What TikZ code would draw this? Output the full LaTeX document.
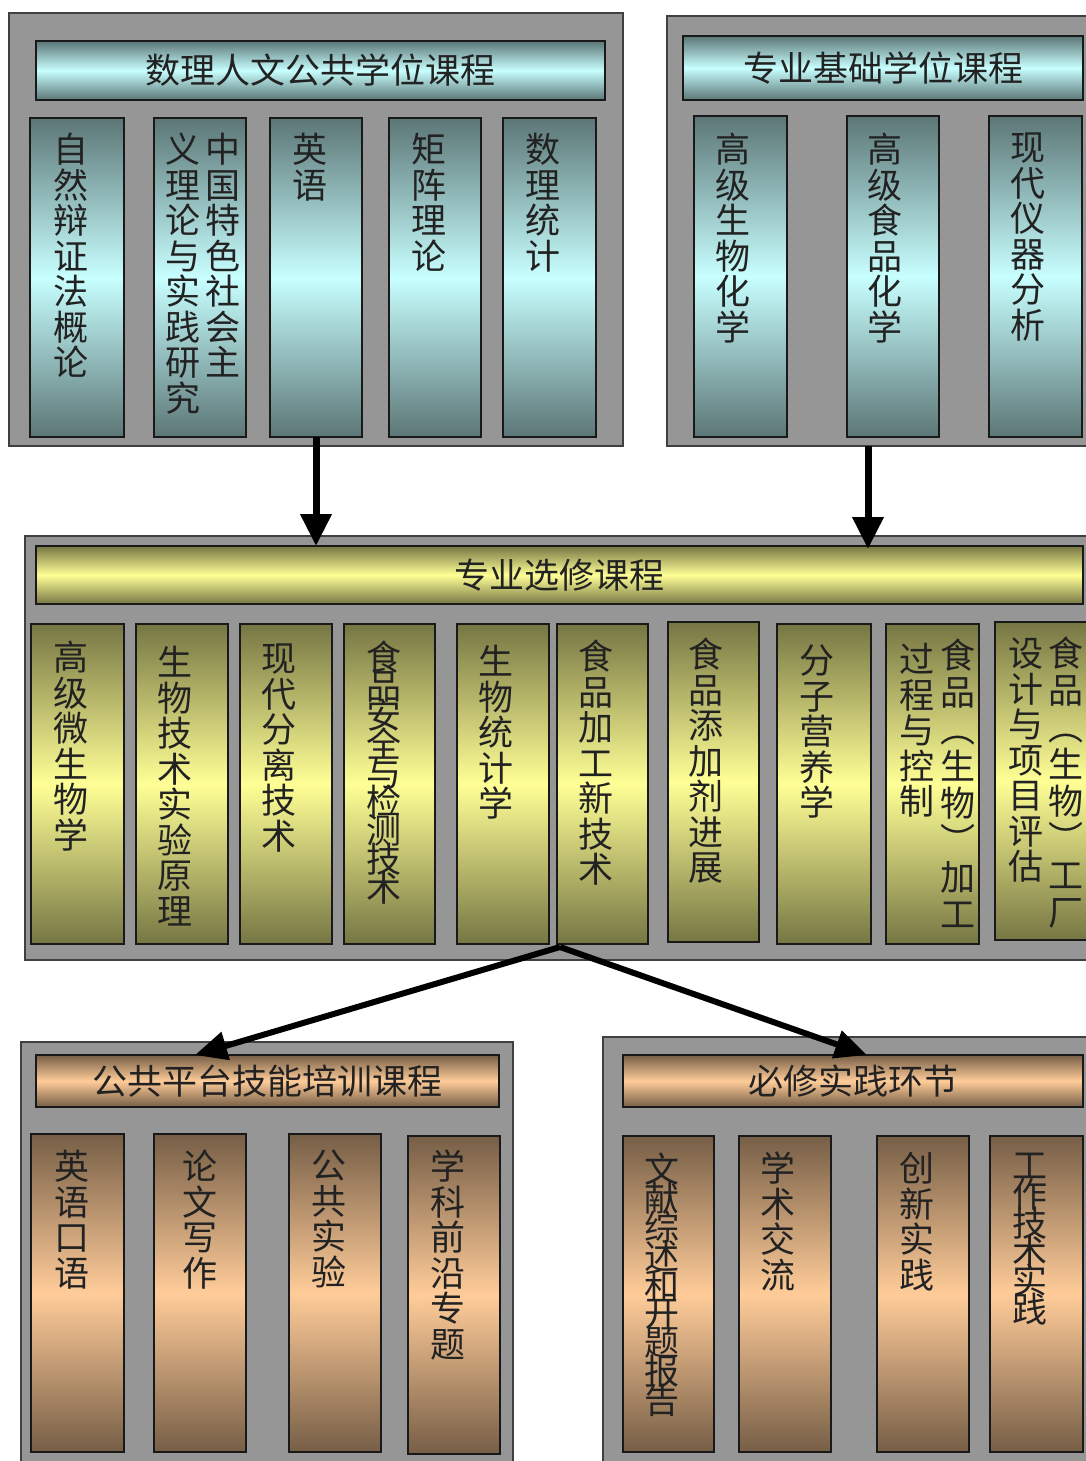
\documentclass[tikz,border=0pt]{standalone}
\usepackage{fontspec}
\newfontfamily\cjk{Noto Sans CJK SC}
\usetikzlibrary{arrows.meta}
% vertical labels use a fixed line pitch, even where glyphs overlap
\setlength{\lineskiplimit}{-50pt}

\definecolor{panelgray}{RGB}{150,150,150}
\definecolor{tealdark}{RGB}{92,118,118}
\definecolor{teallight}{RGB}{200,255,255}
\definecolor{olivedark}{RGB}{118,118,68}
\definecolor{olivelight}{RGB}{255,255,150}
\definecolor{browndark}{RGB}{118,94,70}
\definecolor{brownlight}{RGB}{255,204,153}
\definecolor{inkcol}{RGB}{34,34,34}

% rectangle node given by its corners: name, style, x1, y1, x2, y2
\newcommand{\mkbox}[6]{%
  \node[#2, anchor=north west, inner sep=0pt, outer sep=0pt,
        minimum width={(#5-#3)*1pt}, minimum height={(#6-#4)*1pt}] (#1) at (#3,#4) {};}

\tikzset{
  panel/.style={draw=black!75, line width=1.5pt, fill=panelgray},
  boxline/.style={draw=black!90, line width=1.5pt},
  tealbox/.style={boxline, top color=tealdark, bottom color=tealdark, middle color=teallight},
  olivebox/.style={boxline, top color=olivedark, bottom color=olivedark, middle color=olivelight},
  brownbox/.style={boxline, top color=browndark, bottom color=browndark, middle color=brownlight},
  vt/.style={anchor=north, inner sep=0pt, align=center, text=inkcol,
    font=\cjk\fontsize{35}{35.5}\selectfont},
  vtight/.style={vt, font=\cjk\fontsize{35}{28.8}\selectfont},
  vparen/.style={vt, font=\cjk\fontsize{35}{37}\selectfont},
  ttl/.style={inner sep=0pt, text=inkcol, font=\cjk\fontsize{35}{35}\selectfont},
  flow/.style={line width=7pt, -{Triangle[length=32pt,width=30pt]}},
  fork/.style={line width=6pt, -{Triangle[length=32pt,width=28pt]}}
}

\begin{document}
\begin{tikzpicture}[x=1pt,y=-1pt]
\useasboundingbox (0,0) rectangle (1086,1461);
\clip (0,0) rectangle (1086,1461);

% ---------- degree courses: mathematics and humanities ----------
\mkbox{pa}{panel}{9}{13}{623}{446}
\mkbox{pat}{tealbox}{36}{41}{605}{100}
\node[ttl] (pat-t) at (pat.center) {数理人文公共学位课程};
\mkbox{a1}{tealbox}{30}{118}{124}{437}
\mkbox{a2}{tealbox}{154}{118}{246}{437}
\mkbox{a3}{tealbox}{270}{118}{362}{437}
\mkbox{a4}{tealbox}{389}{118}{481}{437}
\mkbox{a5}{tealbox}{503}{118}{596}{437}
\node[vt] (a1-t) at (71,133) {自\\然\\辩\\证\\法\\概\\论};
\node[vt] (a2-r) at (223,133) {中\\国\\特\\色\\社\\会\\主};
\node[vt] (a2-l) at (183,133) {义\\理\\论\\与\\实\\践\\研\\究};
\node[vt] (a3-t) at (310,133) {英\\语};
\node[vt] (a4-t) at (429,133) {矩\\阵\\理\\论};
\node[vt] (a5-t) at (543,133) {数\\理\\统\\计};

% ---------- degree courses: professional foundation ----------
\mkbox{pb}{panel}{667}{16}{1100}{446}
\mkbox{pbt}{tealbox}{683}{36}{1083}{100}
\node[ttl] (pbt-t) at (pbt.center) {专业基础学位课程};
\mkbox{b1}{tealbox}{694}{116}{787}{437}
\mkbox{b2}{tealbox}{847}{116}{939}{437}
\mkbox{b3}{tealbox}{989}{116}{1082}{437}
\node[vt] (b1-t) at (733,133) {高\\级\\生\\物\\化\\学};
\node[vt] (b2-t) at (885,133) {高\\级\\食\\品\\化\\学};
\node[vt] (b3-t) at (1028,133) {现\\代\\仪\\器\\分\\析};

% ---------- elective courses ----------
\mkbox{pc}{panel}{25}{536}{1100}{960}
\mkbox{pct}{olivebox}{36}{546}{1083}{604}
\node[ttl] (pct-t) at (pct.center) {专业选修课程};
\mkbox{c1}{olivebox}{31}{624}{124}{944}
\mkbox{c2}{olivebox}{136}{624}{228}{944}
\mkbox{c3}{olivebox}{240}{624}{332}{944}
\mkbox{c4}{olivebox}{344}{624}{435}{944}
\mkbox{c5}{olivebox}{457}{624}{549}{944}
\mkbox{c6}{olivebox}{557}{624}{648}{944}
\mkbox{c7}{olivebox}{668}{622}{759}{942}
\mkbox{c8}{olivebox}{777}{624}{871}{944}
\mkbox{c9}{olivebox}{886}{624}{979}{944}
\mkbox{c10}{olivebox}{995}{622}{1092}{940}
\node[vt] (c1-t) at (71,641) {高\\级\\微\\生\\物\\学};
\node[vt] (c2-t) at (175,646) {生\\物\\技\\术\\实\\验\\原\\理};
\node[vt] (c3-t) at (279,644) {现\\代\\分\\离\\技\\术};
\node[vtight] (c4-t) at (384,641) {食\\品\\安\\全\\与\\检\\测\\技\\术};
\node[vt] (c5-t) at (496,645) {生\\物\\统\\计\\学};
\node[vt] (c6-t) at (596,640) {食\\品\\加\\工\\新\\技\\术};
\node[vt] (c7-t) at (706,638) {食\\品\\添\\加\\剂\\进\\展};
\node[vt] (c8-t) at (817,645) {分\\子\\营\\养\\学};
\node[vparen] (c9-r) at (958,639) {食\\品\\︵\\生\\物\\︶\\加\\工};
\node[vt] (c9-l) at (917,643) {过\\程\\与\\控\\制};
\node[vparen] (c10-r) at (1066,637) {食\\品\\︵\\生\\物\\︶\\工\\厂};
\node[vt] (c10-l) at (1026,638) {设\\计\\与\\项\\目\\评\\估};

% ---------- public platform skills ----------
\mkbox{pd}{panel}{21}{1042}{513}{1475}
\mkbox{pdt}{brownbox}{36}{1055}{499}{1107}
\node[ttl] (pdt-t) at (pdt.center) {公共平台技能培训课程};
\mkbox{d1}{brownbox}{31}{1134}{124}{1452}
\mkbox{d2}{brownbox}{154}{1134}{246}{1452}
\mkbox{d3}{brownbox}{289}{1134}{381}{1452}
\mkbox{d4}{brownbox}{408}{1136}{500}{1454}
\node[vt] (d1-t) at (72,1150) {英\\语\\口\\语};
\node[vt] (d2-t) at (200,1150) {论\\文\\写\\作};
\node[vt] (d3-t) at (329,1150) {公\\共\\实\\验};
\node[vt] (d4-t) at (448,1150) {学\\科\\前\\沿\\专\\题};

% ---------- compulsory practice ----------
\mkbox{pe}{panel}{603}{1037}{1100}{1475}
\mkbox{pet}{brownbox}{623}{1055}{1083}{1107}
\node[ttl] (pet-t) at (pet.center) {必修实践环节};
\mkbox{e1}{brownbox}{623}{1136}{714}{1452}
\mkbox{e2}{brownbox}{739}{1136}{831}{1452}
\mkbox{e3}{brownbox}{877}{1136}{969}{1452}
\mkbox{e4}{brownbox}{990}{1136}{1083}{1452}
\node[vtight] (e1-t) at (662,1153) {文\\献\\综\\述\\和\\开\\题\\报\\告};
\node[vt] (e2-t) at (778,1152) {学\\术\\交\\流};
\node[vt] (e3-t) at (917,1152) {创\\新\\实\\践};
\node[vtight] (e4-t) at (1030,1153) {工\\作\\技\\术\\实\\践};

% ---------- connectors ----------
\coordinate (bdrop) at (868,446);
\coordinate (forkpt) at (560,947);
\draw[flow] (a3.south) -- (a3.south |- pct.north);
\draw[flow] (bdrop) -- ([yshift=-3pt]bdrop |- pct.north);
\draw[fork] (forkpt) -- ([xshift=159pt]pdt.north west);
\draw[fork] (forkpt) -- ([xshift=244pt]pet.north west);
\end{tikzpicture}
\end{document}
